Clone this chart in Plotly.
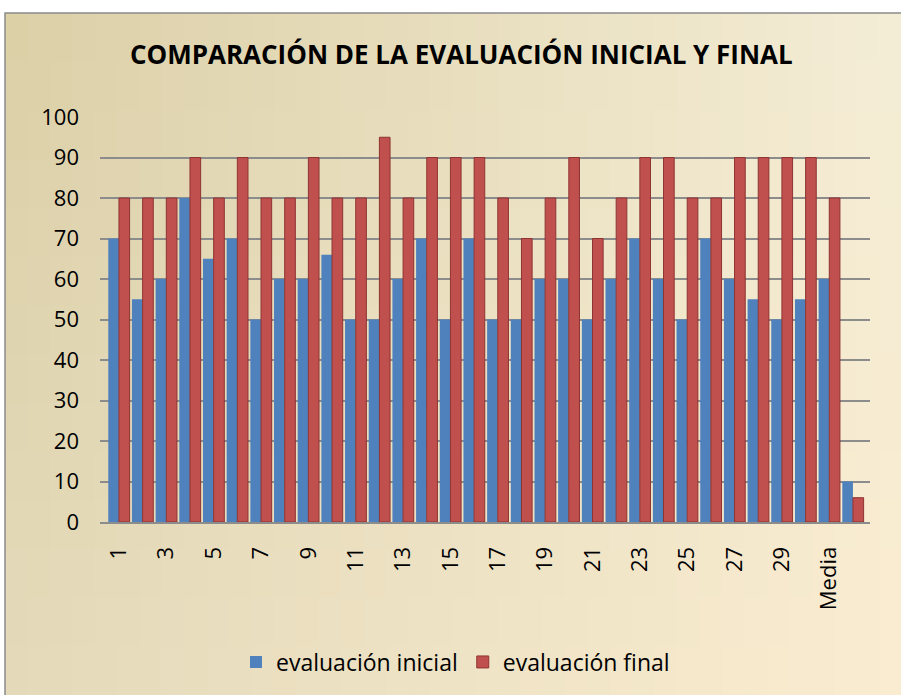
import plotly.graph_objects as go

categories = [str(i) for i in range(1, 31)] + ["Media", "Desviación"]
tick_labels = [c if i % 2 == 0 else "" for i, c in enumerate(categories)]
inicial = [70, 55, 60, 80, 65, 70, 50, 60, 60, 66, 50, 50, 60, 70, 50, 70, 50, 50, 60, 60,
           50, 60, 70, 60, 50, 70, 60, 55, 50, 55, 60, 10]
final = [80, 80, 80, 90, 80, 90, 80, 80, 90, 80, 80, 95, 80, 90, 90, 90, 80, 70, 80, 90,
         70, 80, 90, 90, 80, 80, 90, 90, 90, 90, 80, 6]

W, H = 901, 695
L, R, T, B = 100, 31, 117, 173
pw, ph = W - L - R, H - T - B

def px(x):
    return (x - L) / pw

def py(y):
    return (H - B - y) / ph

fig = go.Figure()
fig.add_trace(go.Bar(x=categories, y=inicial, name="evaluación inicial",
                     marker=dict(color="#4F81BD", line=dict(width=0))))
fig.add_trace(go.Bar(x=categories, y=final, name="evaluación final",
                     marker=dict(color="#C0504D", line=dict(color="#8E3432", width=1))))

# gradient background
shapes = []
TL = (219, 207, 166)
TR = (244, 237, 214)
BL = (228, 218, 186)
BR = (250, 236, 208)
x0f, x1f, y0f, y1f = 5, 901, 13, 695
nx, ny = 40, 14
for i in range(nx):
    for j in range(ny):
        u = (i + 0.5) / nx
        v = (j + 0.5) / ny
        col = tuple(int(round(TL[k] * (1 - u) * (1 - v) + TR[k] * u * (1 - v)
                              + BL[k] * (1 - u) * v + BR[k] * u * v)) for k in range(3))
        xa = x0f + (x1f - x0f) * i / nx
        xb = x0f + (x1f - x0f) * (i + 1) / nx
        ya = y0f + (y1f - y0f) * j / ny
        yb = y0f + (y1f - y0f) * (j + 1) / ny
        shapes.append(dict(type="rect", xref="paper", yref="paper", layer="below",
                           x0=px(xa), x1=px(xb + 1), y0=py(yb + 1), y1=py(ya),
                           line=dict(width=0), fillcolor="rgb(%d,%d,%d)" % col))
shapes.append(dict(type="rect", xref="paper", yref="paper", layer="below",
                   x0=px(5), x1=px(905), y0=py(700), y1=py(13),
                   line=dict(color="#8A8A8A", width=1.5), fillcolor="rgba(0,0,0,0)"))

fig.update_layout(
    width=W, height=H,
    margin=dict(l=L, r=R, t=T, b=B, pad=0),
    paper_bgcolor="white",
    plot_bgcolor="rgba(0,0,0,0)",
    shapes=shapes,
    barmode="group",
    bargap=0.1,
    bargroupgap=0.0,
    title=dict(text="<b>COMPARACIÓN DE LA EVALUACIÓN INICIAL Y FINAL</b>",
               x=0.512, xanchor="center", y=1 - 55 / H, yanchor="middle",
               font=dict(family="Open Sans", size=26, color="black")),
    font=dict(family="Open Sans", color="black"),
    xaxis=dict(tickmode="array", tickvals=categories, ticktext=tick_labels,
               tickangle=-90, tickfont=dict(size=22, family="Open Sans"),
               showgrid=False, showline=True, linecolor="#8C8C8C", linewidth=2,
               ticks="", range=[-0.8, 31.72], ticklabelstandoff=14),
    yaxis=dict(range=[0, 100], dtick=10, showgrid=True, gridcolor="#8C8C8C", gridwidth=2,
               zeroline=False, tickfont=dict(size=22, family="Open Sans"),
               ticks="", ticklabelstandoff=20, showline=False),
    legend=dict(orientation="h", x=px(236), xanchor="left", y=py(662), yanchor="middle",
                font=dict(size=23, family="Open Sans"), bgcolor="rgba(0,0,0,0)",
                itemwidth=30),
)

fig.write_html("out.html", config={"displayModeBar": False},
               post_script="document.body.style.margin='0px';")
